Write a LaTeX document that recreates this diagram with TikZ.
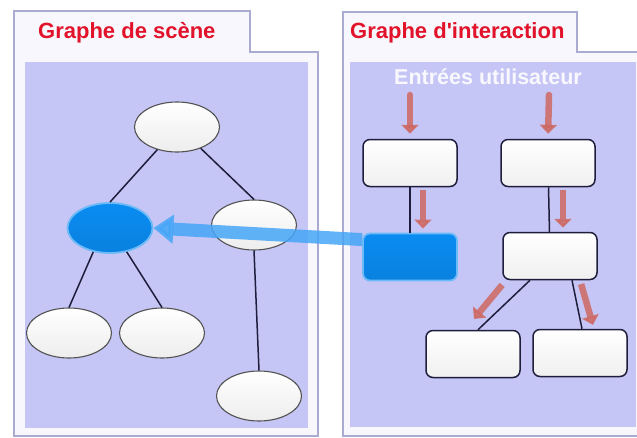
\documentclass[tikz,border=0pt]{standalone}
\usepackage{fontspec}
\setmainfont{Liberation Sans}
\definecolor{ScnLav}{RGB}{198,198,246}
\definecolor{ScnFrame}{RGB}{247,247,253}
\definecolor{ScnEdge}{RGB}{170,170,210}
\definecolor{ScnRed}{RGB}{226,18,42}
\definecolor{ScnBlue}{RGB}{10,140,242}
\definecolor{ScnArrow}{RGB}{70,166,246}
\definecolor{ScnSalmon}{RGB}{206,104,98}
\definecolor{ScnInk}{RGB}{30,30,60}
\usetikzlibrary{
    shapes.geometric,
    arrows.meta,
    positioning,
    calc,
}

\begin{document}
\begin{tikzpicture}[
    x=1pt, y=-1pt,
    panel/.style={draw=ScnEdge, line width=1.2pt, fill=ScnFrame},
    title/.style={font=\fontsize{22}{26}\selectfont\bfseries, text=ScnRed, anchor=base west, inner sep=0pt},
    blob/.style={ellipse, minimum width=85pt, minimum height=50pt, inner sep=0pt, draw=gray!65!black, line width=1.1pt, top color=white, bottom color=gray!14},
    hot/.style={top color=ScnBlue, bottom color=ScnBlue!92!black, draw=ScnBlue!60!white, line width=1.8pt},
    box/.style={rectangle, rounded corners=7pt, minimum width=94pt, minimum height=47pt, draw=ScnInk, line width=1.5pt, top color=white, bottom color=gray!12},
    link/.style={ScnInk, line width=1.5pt},
    flow/.style={-{Triangle[length=9pt, width=17pt]}, line width=6.5pt, ScnSalmon, opacity=0.85}
]
    \useasboundingbox (0,0) rectangle (637,437);
    \draw[panel] (14,11) -- (250,11) -- (250,52) -- (318,52) -- (318,436) -- (14,436) -- cycle;
    \draw[panel] (343,12) -- (577,12) -- (577,52) -- (645,52) -- (645,436) -- (343,436) -- cycle;
    \fill[ScnLav] (25,62) rectangle (308,428);
    \fill[ScnLav] (350,62) rectangle (636,427);
    \node[title] (tscn) at (38,38) {Graphe de scène};
    \node[title] (tint) at (350,38) {Graphe d\textquotesingle interaction};
    \node[font=\fontsize{21.5}{24}\selectfont\bfseries, text=white!88!ScnLav] (inp) at (488,77) {Entrées utilisateur};

    \node[blob]     (root) at (177,127) {};
    \node[blob,hot] (sel)  at (110,228) {};
    \node[blob]     (mid)  at (254,225) {};
    \node[blob]     (lfa)  at (69,333)  {};
    \node[blob]     (lfb)  at (162,333) {};
    \node[blob]     (lfc)  at (259,396) {};
    \draw[link] (root.229) -- (sel.north);
    \draw[link] (root.318) -- (mid.north);
    \draw[link] (sel.235) -- (lfa.north);
    \draw[link] (sel.305) -- (lfb.north);
    \draw[link] (mid.south) -- (lfc.north);

    \node[box]     (ia) at (410,163) {};
    \node[box]     (ib) at (548,163) {};
    \node[box,hot] (ic) at (410,257) {};
    \node[box]     (id) at (550,256) {};
    \node[box]     (ie) at (473,354) {};
    \node[box]     (if) at (580,353) {};
    \draw[link] (ia) -- (ic);
    \draw[link] (ib) -- (id);
    \draw[link] ([xshift=-20pt]id.south) -- ([xshift=5pt]ie.north);
    \draw[link] ([xshift=22pt]id.south) -- ([xshift=2pt]if.north);

    \coordinate (ina) at (410,95);
    \coordinate (inb) at (549,95);
    \draw[flow, line cap=round, shorten >=5pt] (ina) -- (ia.north);
    \draw[flow, line cap=round, shorten >=5pt] (inb) -- (ib.north);
    \draw[flow, shorten <=3pt, shorten >=4pt] ([xshift=13pt]ia.south) -- ([xshift=13pt]ic.north);
    \draw[flow, shorten <=3pt, shorten >=4pt] ([xshift=15pt]ib.south) -- ([xshift=13pt]id.north);
    \draw[flow, shorten <=6pt, shorten >=14pt] ([xshift=-44pt]id.south) -- ([xshift=-8pt]ie.north);
    \draw[flow, shorten <=4pt, shorten >=4pt] ([xshift=30pt]id.south) -- ([xshift=14pt]if.north);

    \draw[-{Triangle[length=20pt, width=28pt]}, line width=13pt, ScnArrow, opacity=0.85] (ic.160) -- (sel.east);
\end{tikzpicture}
\end{document}
